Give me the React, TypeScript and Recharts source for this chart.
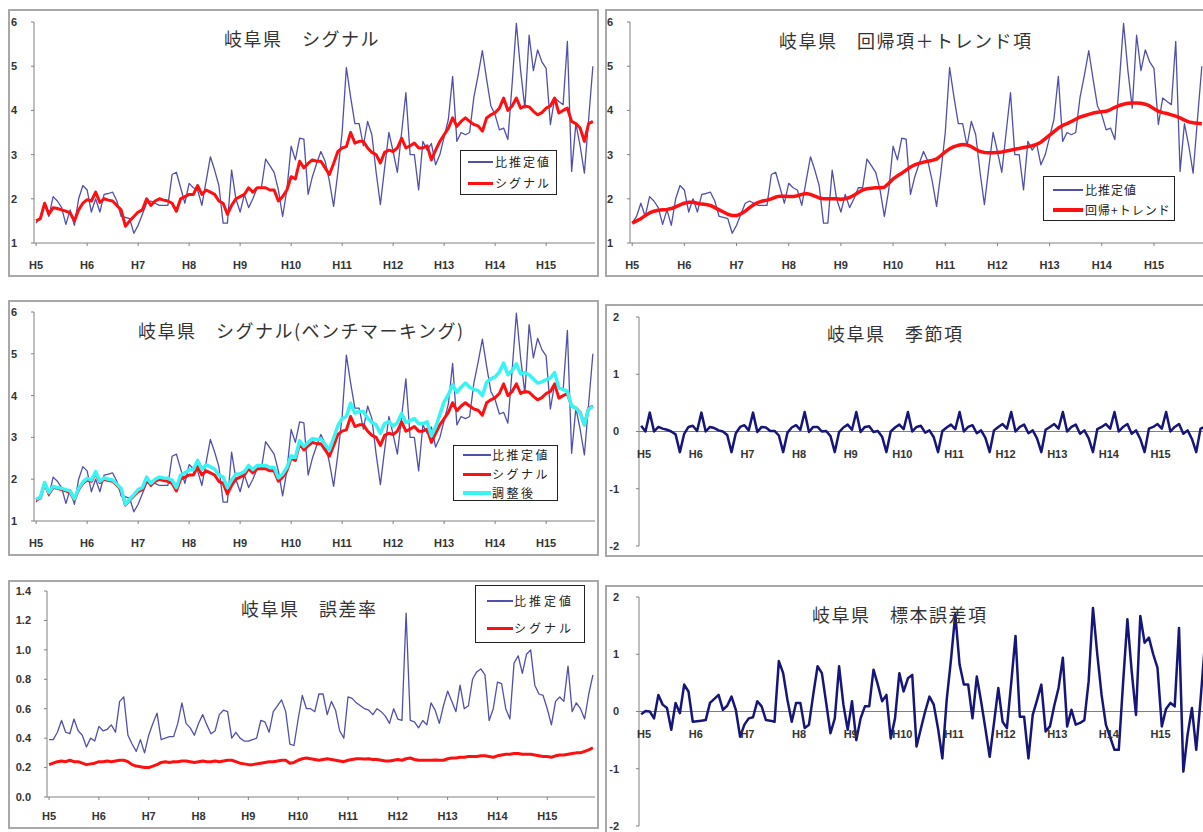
import React from 'react';
import { LineChart, Line, XAxis, YAxis, ReferenceLine } from 'recharts';

// categories: 132 months, H5.1 .. H15.12
const yearLabels = ['H5', 'H6', 'H7', 'H8', 'H9', 'H10', 'H11', 'H12', 'H13', 'H14', 'H15'];
const yearTicks = [0, 12, 24, 36, 48, 60, 72, 84, 96, 108, 120];

// 比推定値
const ratioEstimate = [
  1.45, 1.6, 1.9, 1.6, 2.05, 1.95, 1.8, 1.42, 1.75, 1.4, 2.0, 2.3,
  2.2, 1.7, 2.0, 1.7, 2.1, 2.12, 2.15, 1.95, 1.6, 1.58, 1.55, 1.22,
  1.4, 1.65, 1.9, 1.95, 1.9, 1.85, 1.85, 1.85, 2.55, 2.6, 2.25, 1.9,
  2.35, 2.25, 2.2, 1.85, 2.4, 2.95, 2.65, 2.3, 1.45, 1.45, 2.65, 2.0,
  1.7, 2.1, 1.8, 2.0, 2.25, 2.25, 2.9, 2.75, 2.6, 2.2, 1.6, 2.2,
  3.19, 2.88, 3.37, 3.35, 2.1, 2.5, 2.8, 3.07, 2.85, 2.4, 1.83, 2.6,
  3.5, 4.97, 4.3, 3.7, 3.7, 3.2, 3.75, 3.45, 2.6, 1.87, 2.7, 3.5,
  3.07, 2.6, 3.5, 4.4, 3.0, 3.0, 2.2, 3.3, 3.1, 3.25, 2.77, 3.0,
  3.4, 3.8, 4.77, 3.3, 3.5, 3.45, 3.5, 4.3, 4.8, 5.35, 4.7, 4.1,
  3.9, 3.56, 3.6, 3.34, 4.6, 5.97, 4.9, 4.05, 5.7, 4.9, 5.37, 5.1,
  4.95, 3.68, 4.28, 4.2, 4.13, 5.56, 2.62, 3.7, 3.2, 2.58, 3.8, 5.0,
];

// シグナル
const signal = [
  1.5, 1.55, 1.9, 1.65, 1.8, 1.78, 1.75, 1.72, 1.68, 1.5, 1.75, 1.9,
  1.98, 1.95, 2.15, 1.92, 2.0, 1.97, 1.95, 1.85, 1.75, 1.38, 1.5, 1.6,
  1.7, 1.75, 2.0, 1.85, 1.95, 2.0, 1.97, 1.95, 1.9, 1.72, 2.0, 2.05,
  2.1, 2.1, 2.3, 2.1, 2.2, 2.15, 2.1, 1.95, 1.9, 1.65, 1.85, 2.0,
  2.05, 2.1, 2.25, 2.15, 2.25, 2.25, 2.25, 2.2, 2.2, 1.95, 2.05, 2.2,
  2.5, 2.45, 2.85, 2.7, 2.8, 2.88, 2.85, 2.85, 2.7, 2.55, 2.8, 3.07,
  3.15, 3.18, 3.5, 3.26, 3.3, 3.3, 3.15, 3.05, 3.0, 2.81, 3.05, 3.1,
  3.07, 3.15, 3.37, 3.15, 3.2, 3.26, 3.15, 3.15, 3.2, 2.88, 3.1, 3.3,
  3.45, 3.6, 3.83, 3.64, 3.75, 3.83, 3.75, 3.68, 3.65, 3.53, 3.83, 3.9,
  3.95, 4.05, 4.28, 4.0, 4.1, 4.28, 4.05, 4.1, 4.08, 3.98, 3.9, 3.95,
  4.05, 4.1, 4.28, 3.94, 4.0, 4.05, 3.75, 3.7, 3.6, 3.3, 3.7, 3.75,
];

// 回帰+トレンド
const trend = [
  1.45, 1.5, 1.55, 1.62, 1.68, 1.72, 1.74, 1.75, 1.76, 1.78, 1.82, 1.86,
  1.9, 1.92, 1.92, 1.9, 1.88, 1.87, 1.85, 1.8, 1.75, 1.7, 1.65, 1.62,
  1.62, 1.66, 1.72, 1.8, 1.87, 1.92, 1.95, 1.97, 2.0, 2.04, 2.06, 2.06,
  2.05, 2.05, 2.07, 2.1, 2.12, 2.1, 2.06, 2.02, 2.0, 2.0, 2.0, 2.0,
  1.99, 2.0, 2.03, 2.08, 2.14, 2.2, 2.23, 2.24, 2.25, 2.25, 2.26, 2.35,
  2.45, 2.52, 2.58, 2.65, 2.72, 2.77, 2.8, 2.83, 2.85, 2.87, 2.9, 2.98,
  3.06, 3.13, 3.18, 3.21, 3.23, 3.22, 3.18, 3.12, 3.07, 3.05, 3.04, 3.04,
  3.05, 3.06, 3.08, 3.1, 3.12, 3.14, 3.16, 3.18, 3.2, 3.23, 3.28, 3.36,
  3.44, 3.52, 3.6, 3.66, 3.7, 3.75, 3.8, 3.85, 3.88, 3.91, 3.94, 3.96,
  3.97, 3.98, 4.02, 4.07, 4.11, 4.14, 4.16, 4.17, 4.17, 4.16, 4.14, 4.1,
  4.04, 3.98, 3.95, 3.93, 3.9, 3.87, 3.83, 3.78, 3.74, 3.72, 3.71, 3.7,
];

// 調整後
const adjusted = [
  1.52, 1.57, 1.92, 1.68, 1.83, 1.8, 1.78, 1.75, 1.72, 1.53, 1.78, 1.93,
  2.02, 1.98, 2.18, 1.95, 2.03, 2.0, 1.98, 1.88, 1.78, 1.4, 1.52, 1.63,
  1.75, 1.8, 2.05, 1.9, 2.0, 2.05, 2.03, 2.02, 1.98, 1.8, 2.1, 2.15,
  2.22, 2.23, 2.45, 2.24, 2.34, 2.3, 2.24, 2.1, 2.05, 1.8, 1.98, 2.12,
  2.13, 2.18, 2.33, 2.23, 2.33, 2.33, 2.33, 2.28, 2.28, 2.03, 2.12, 2.28,
  2.56, 2.52, 2.92, 2.78, 2.88, 2.97, 2.95, 2.96, 2.83, 2.7, 2.98, 3.28,
  3.45, 3.5, 3.82, 3.58, 3.62, 3.62, 3.46, 3.36, 3.3, 3.1, 3.33, 3.38,
  3.27, 3.35, 3.57, 3.35, 3.4, 3.45, 3.33, 3.33, 3.37, 3.04, 3.25, 3.55,
  3.85, 4.02, 4.26, 4.08, 4.2, 4.3, 4.2, 4.15, 4.12, 4.0, 4.32, 4.4,
  4.45, 4.57, 4.78, 4.5, 4.6, 4.76, 4.52, 4.55, 4.5, 4.4, 4.3, 4.33,
  4.38, 4.42, 4.55, 4.18, 4.15, 4.1, 3.75, 3.7, 3.58, 3.3, 3.68, 3.74,
];

// 季節項
const seasonal = [
  0.10, 0.00, 0.33, 0.00, 0.08, 0.05, 0.03, 0.00, -0.05, -0.36, -0.04, 0.08,
  0.10, 0.01, 0.33, 0.00, 0.08, 0.06, 0.02, 0.00, -0.06, -0.36, -0.03, 0.08,
  0.11, 0.02, 0.33, -0.01, 0.08, 0.07, 0.01, 0.01, -0.07, -0.36, -0.02, 0.07,
  0.11, 0.03, 0.34, -0.01, 0.08, 0.08, 0.00, 0.01, -0.08, -0.36, -0.01, 0.07,
  0.12, 0.03, 0.34, -0.01, 0.08, 0.09, -0.01, 0.01, -0.09, -0.36, 0.00, 0.07,
  0.12, 0.04, 0.34, 0.00, 0.08, 0.10, -0.02, 0.02, -0.10, -0.36, 0.01, 0.07,
  0.12, 0.04, 0.34, 0.00, 0.08, 0.11, -0.03, 0.02, -0.11, -0.36, 0.02, 0.08,
  0.13, 0.05, 0.34, 0.00, 0.08, 0.12, -0.03, 0.02, -0.12, -0.36, 0.03, 0.08,
  0.13, 0.05, 0.34, 0.00, 0.08, 0.12, -0.04, 0.02, -0.12, -0.36, 0.04, 0.08,
  0.13, 0.05, 0.34, 0.00, 0.08, 0.13, -0.04, 0.02, -0.13, -0.36, 0.05, 0.08,
  0.13, 0.05, 0.34, 0.00, 0.08, 0.13, -0.04, 0.02, -0.13, -0.36, 0.05, 0.08,
];

// 標本誤差項
const sampleError = [
  -0.05, 0.01, 0.0, -0.12, 0.29, 0.12, 0.06, -0.32, 0.15, -0.03, 0.47, 0.35,
  -0.18, -0.17, -0.16, -0.15, 0.15, 0.22, 0.29, 0.03, 0.1, 0.26, 0.03, -0.44,
  -0.23, -0.12, -0.1, 0.18, 0.09, -0.15, -0.16, -0.18, 0.88, 0.67, 0.2, -0.18,
  0.15, 0.15, -0.29, -0.23, 0.3, 0.79, 0.67, 0.15, -0.38, -0.12, 0.79, 0.12,
  -0.32, 0.18, -0.5, -0.12, 0.09, 0.09, 0.73, 0.47, 0.18, 0.29, -0.47, -0.12,
  0.67, 0.35, 0.58, 0.64, -0.61, -0.3, 0.0, 0.26, 0.12, -0.3, -0.82, 0.2,
  0.9, 1.7, 0.82, 0.47, 0.47, -0.12, 0.61, 0.18, -0.3, -0.79, -0.2, 0.41,
  -0.18, -0.29, 0.5, 1.32, -0.09, -0.09, -0.82, -0.06, 0.2, 0.47, -0.35, -0.26,
  0.1, 0.41, 0.94, -0.26, 0.03, -0.23, -0.2, -0.15, 0.53, 1.81, 1.0, 0.29,
  -0.23, -0.45, -0.67, -0.67, 0.5, 1.61, 0.7, -0.06, 1.67, 1.2, 1.29, 1.0,
  0.76, -0.26, 0.05, 0.15, 0.09, 1.46, -1.05, -0.4, 0.06, -0.67, 0.2, 1.17,
];

// 誤差率 (比推定値)
const errorRateEstimate = [
  0.39, 0.39, 0.44, 0.52, 0.44, 0.43, 0.53, 0.45, 0.42, 0.34, 0.40, 0.38,
  0.48, 0.45, 0.46, 0.49, 0.44, 0.65, 0.68, 0.42, 0.36, 0.31, 0.39, 0.30,
  0.42, 0.50, 0.57, 0.39, 0.40, 0.41, 0.41, 0.50, 0.64, 0.50, 0.47, 0.42,
  0.50, 0.56, 0.49, 0.43, 0.45, 0.56, 0.59, 0.58, 0.40, 0.44, 0.40, 0.38,
  0.38, 0.39, 0.40, 0.52, 0.51, 0.44, 0.58, 0.62, 0.66, 0.58, 0.36, 0.35,
  0.53, 0.69, 0.60, 0.60, 0.58, 0.70, 0.70, 0.56, 0.65, 0.59, 0.45, 0.40,
  0.68, 0.67, 0.64, 0.62, 0.60, 0.59, 0.56, 0.60, 0.58, 0.55, 0.50, 0.60,
  0.53, 0.52, 1.25, 0.52, 0.51, 0.47, 0.52, 0.49, 0.64, 0.59, 0.50, 0.62,
  0.72, 0.65, 0.58, 0.76, 0.60, 0.62, 0.80, 0.85, 0.87, 0.83, 0.52, 0.60,
  0.78, 0.77, 0.60, 0.53, 0.91, 0.96, 0.84, 0.97, 1.00, 0.76, 0.70, 0.69,
  0.60, 0.49, 0.65, 0.68, 0.65, 0.89, 0.58, 0.64, 0.60, 0.53, 0.70, 0.83,
];

// 誤差率 (シグナル)
const errorRateSignal = [
  0.22, 0.23, 0.24, 0.245, 0.24, 0.25, 0.24, 0.24, 0.23, 0.22, 0.225, 0.23,
  0.24, 0.24, 0.245, 0.24, 0.245, 0.25, 0.25, 0.24, 0.22, 0.21, 0.205, 0.2,
  0.2, 0.21, 0.22, 0.235, 0.24, 0.235, 0.24, 0.24, 0.245, 0.245, 0.24, 0.235,
  0.24, 0.245, 0.24, 0.24, 0.245, 0.24, 0.245, 0.25, 0.25, 0.24, 0.23, 0.225,
  0.22, 0.22, 0.225, 0.23, 0.235, 0.24, 0.24, 0.245, 0.25, 0.25, 0.23, 0.235,
  0.25, 0.26, 0.265, 0.26, 0.255, 0.25, 0.255, 0.26, 0.255, 0.25, 0.245, 0.24,
  0.25, 0.255, 0.26, 0.26, 0.258, 0.26, 0.255, 0.255, 0.25, 0.245, 0.245, 0.25,
  0.255, 0.25, 0.26, 0.265, 0.255, 0.25, 0.25, 0.25, 0.25, 0.252, 0.25, 0.25,
  0.26, 0.265, 0.265, 0.27, 0.27, 0.275, 0.275, 0.275, 0.28, 0.28, 0.275, 0.27,
  0.28, 0.285, 0.29, 0.29, 0.295, 0.295, 0.29, 0.29, 0.29, 0.285, 0.28, 0.275,
  0.275, 0.27, 0.28, 0.285, 0.285, 0.29, 0.295, 0.3, 0.3, 0.31, 0.32, 0.335,
];

const rows = ratioEstimate.map((v, i) => ({
  i,
  raw: v,
  signal: signal[i],
  trend: trend[i],
  adjusted: adjusted[i],
  seasonal: seasonal[i],
  sampleError: sampleError[i],
  errRaw: errorRateEstimate[i],
  errSignal: errorRateSignal[i],
}));

const TICK_FONT = '"Liberation Sans", Arial, sans-serif';
const JP_FONT = '"Noto Sans CJK JP", "Noto Sans", sans-serif';
const BLUE = '#5050ac';
const RED = '#ff1010';
const CYAN = '#38f4f4';
const NAVY = '#16167a';
const AXIS = '#808080';

const L = 40, T = 8, R = 4, B = 30;

type SeriesDef = { key: string; color: string; width: number };
type PanelDef = {
  plot: [number, number, number, number];
  yDomain: [number, number];
  yTicks: number[];
  yFormat?: (v: number) => string;
  yGap: number;
  xGap: number;
  zeroAxis?: boolean;
  lines: SeriesDef[];
};

const tickStyle = { fontSize: 11, fontWeight: 700, fill: '#333', fontFamily: TICK_FONT };

function Panel({ def }: { def: PanelDef }) {
  const [x0, y0, x1, y1] = def.plot;
  const plotH = y1 - y0;
  const w = x1 - x0 + L + R;
  const h = plotH + T + B;
  const zeroY = T + plotH / 2;
  const zeroTick = (props: any) => (
    <text x={props.x + 3} y={zeroY + 26} textAnchor="middle" {...tickStyle}>
      {yearLabels[Math.round(props.payload.value / 12)]}
    </text>
  );
  return (
    <div style={{ position: 'absolute', left: x0 - L, top: y0 - T }}>
      <LineChart width={w} height={h} data={rows} margin={{ top: T, right: R, bottom: 0, left: 0 }}>
        <XAxis
          dataKey="i"
          type="number"
          domain={[-0.5, 131.5]}
          ticks={yearTicks}
          interval={0}
          height={B}
          stroke={AXIS}
          axisLine={def.zeroAxis ? false : { stroke: AXIS }}
          tickLine={def.zeroAxis ? false : { stroke: AXIS }}
          tickSize={3}
          tickMargin={def.xGap}
          tick={def.zeroAxis ? zeroTick : tickStyle}
          tickFormatter={(v: number) => yearLabels[Math.round(v / 12)]}
        />
        <YAxis
          domain={def.yDomain}
          ticks={def.yTicks}
          interval={0}
          width={L}
          stroke={AXIS}
          tickSize={3}
          tickMargin={def.yGap}
          tick={tickStyle}
          tickFormatter={def.yFormat}
          allowDataOverflow
        />
        {def.zeroAxis && <ReferenceLine y={0} stroke={AXIS} strokeWidth={1} />}
        {def.lines.map((s) => (
          <Line
            key={s.key}
            type="linear"
            dataKey={s.key}
            stroke={s.color}
            strokeWidth={s.width}
            dot={false}
            activeDot={false}
            strokeLinejoin="round"
            isAnimationActive={false}
          />
        ))}
      </LineChart>
    </div>
  );
}

type LegendItem = { label: string; color: string; width: number };
type LegendDef = {
  box: [number, number, number, number];
  rows: number[];
  line: [number, number];
  textX: number;
  spacing: number;
  items: LegendItem[];
};

function LegendBox({ def }: { def: LegendDef }) {
  const [l, t, r, b] = def.box;
  return (
    <>
      <div style={{ position: 'absolute', left: l, top: t, width: r - l, height: b - t, border: '1px solid #222', background: '#fff', boxSizing: 'border-box' }} />
      {def.items.map((it, k) => (
        <React.Fragment key={it.label}>
          <div style={{ position: 'absolute', left: def.line[0], top: def.rows[k] - it.width / 2, width: def.line[1] - def.line[0], height: it.width, background: it.color }} />
          <div style={{ position: 'absolute', left: def.textX, top: def.rows[k] - 8, height: 16, lineHeight: '16px', fontSize: 12, letterSpacing: def.spacing, fontFamily: JP_FONT, color: '#222', whiteSpace: 'nowrap' }}>{it.label}</div>
        </React.Fragment>
      ))}
    </>
  );
}

const panels: PanelDef[] = [
  { plot: [34, 22, 595, 243], yDomain: [1, 6], yTicks: [1, 2, 3, 4, 5, 6], yGap: 14, xGap: 15,
    lines: [{ key: 'raw', color: BLUE, width: 1.3 }, { key: 'signal', color: RED, width: 3 }] },
  { plot: [630, 22, 1204, 243], yDomain: [1, 6], yTicks: [1, 2, 3, 4, 5, 6], yGap: 14, xGap: 15,
    lines: [{ key: 'raw', color: BLUE, width: 1.3 }, { key: 'trend', color: RED, width: 3.5 }] },
  { plot: [34, 312, 595, 521], yDomain: [1, 6], yTicks: [1, 2, 3, 4, 5, 6], yGap: 14, xGap: 15,
    lines: [{ key: 'raw', color: BLUE, width: 1.3 }, { key: 'signal', color: RED, width: 3 }, { key: 'adjusted', color: CYAN, width: 3.5 }] },
  { plot: [639, 317, 1207, 546], yDomain: [-2, 2], yTicks: [-2, -1, 0, 1, 2], yGap: 17, xGap: 15, zeroAxis: true,
    lines: [{ key: 'seasonal', color: NAVY, width: 2.5 }] },
  { plot: [47, 591, 595, 797], yDomain: [0, 1.4], yTicks: [0, 0.2, 0.4, 0.6, 0.8, 1.0, 1.2, 1.4], yFormat: (v: number) => v.toFixed(1), yGap: 13, xGap: 12,
    lines: [{ key: 'errRaw', color: BLUE, width: 1.3 }, { key: 'errSignal', color: RED, width: 3 }] },
  { plot: [639, 597, 1207, 826], yDomain: [-2, 2], yTicks: [-2, -1, 0, 1, 2], yGap: 17, xGap: 15, zeroAxis: true,
    lines: [{ key: 'sampleError', color: NAVY, width: 2.5 }] },
];

const frames: [number, number, number, number][] = [
  [8, 9, 599, 277],
  [605, 9, 1215, 277],
  [8, 300, 599, 556],
  [605, 304, 1215, 557],
  [8, 580, 599, 829],
  [605, 585, 1215, 845],
];

const titles: { text: string; left: number; cy: number }[] = [
  { text: '岐阜県　シグナル', left: 224, cy: 38 },
  { text: '岐阜県　回帰項＋トレンド項', left: 779, cy: 40 },
  { text: '岐阜県　シグナル(ベンチマーキング)', left: 138, cy: 330 },
  { text: '岐阜県　季節項', left: 827, cy: 333 },
  { text: '岐阜県　誤差率', left: 241, cy: 608 },
  { text: '岐阜県　標本誤差項', left: 812, cy: 614 },
];

const legends: LegendDef[] = [
  { box: [460, 150, 557, 195], rows: [162, 183], line: [468, 493], textX: 495, spacing: 2,
    items: [{ label: '比推定値', color: BLUE, width: 1.5 }, { label: 'シグナル', color: RED, width: 3 }] },
  { box: [1043, 176, 1175, 221], rows: [190, 210], line: [1053, 1083], textX: 1085, spacing: 1,
    items: [{ label: '比推定値', color: BLUE, width: 1.5 }, { label: '回帰+トレンド', color: RED, width: 3.5 }] },
  { box: [453, 445, 558, 501], rows: [455, 474, 493], line: [463, 491], textX: 492, spacing: 2.5,
    items: [{ label: '比推定値', color: BLUE, width: 1.5 }, { label: 'シグナル', color: RED, width: 3 }, { label: '調整後', color: CYAN, width: 4 }] },
  { box: [475, 585, 585, 643], rows: [601, 628], line: [487, 513], textX: 514, spacing: 3,
    items: [{ label: '比推定値', color: BLUE, width: 1.5 }, { label: 'シグナル', color: RED, width: 3 }] },
];

export default function App() {
  return (
    <div style={{ position: 'fixed', left: 0, top: 0, width: 1203, height: 832, overflow: 'hidden', background: '#fff' }}>
      {frames.map(([l, t, r, b], k) => (
        <div key={'f' + k} style={{ position: 'absolute', left: l, top: t, width: r - l, height: b - t, border: '2px solid #a8a8a8', boxSizing: 'border-box', background: '#fff' }} />
      ))}
      {panels.map((p, k) => (
        <Panel key={'p' + k} def={p} />
      ))}
      {titles.map((t) => (
        <div key={t.text} style={{ position: 'absolute', left: t.left, top: t.cy - 10, height: 20, lineHeight: '20px', fontSize: 18, letterSpacing: 1.5, fontFamily: JP_FONT, color: '#333', whiteSpace: 'nowrap' }}>{t.text}</div>
      ))}
      {legends.map((lg, k) => (
        <LegendBox key={'l' + k} def={lg} />
      ))}
    </div>
  );
}
